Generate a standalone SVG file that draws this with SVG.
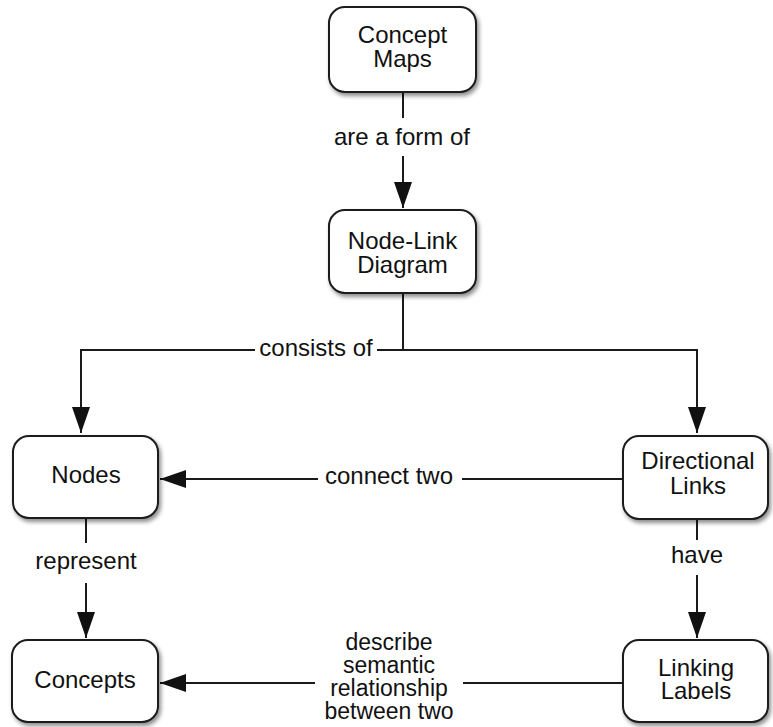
<svg xmlns="http://www.w3.org/2000/svg" width="773" height="727" viewBox="0 0 773 727">
  <defs>
    <filter id="shadow" x="-10%" y="-10%" width="125%" height="130%">
      <feDropShadow dx="2" dy="3" stdDeviation="2" flood-color="#000" flood-opacity="0.45"/>
    </filter>
    <marker id="arrow" markerUnits="userSpaceOnUse" markerWidth="26" markerHeight="18" refX="26" refY="9" orient="auto">
      <path d="M0,0 L26,9 L0,18 Z" fill="#111"/>
    </marker>
    <style>
      .box { fill: #fff; stroke: #1a1a1a; stroke-width: 2; filter: url(#shadow); }
      .txt { font-family: "Liberation Sans", Arial, sans-serif; font-size: 24px; fill: #111; text-anchor: middle; }
      .small { font-size: 23px; }
      .line { fill: none; stroke: #1a1a1a; stroke-width: 2; }
    </style>
  </defs>
  <rect width="773" height="727" fill="#fff"/>

  <g id="connectors">
    <!-- Concept Maps -> Node-Link Diagram -->
    <line class="line" x1="403" y1="92" x2="403" y2="118"/>
    <line class="line" x1="403" y1="156" x2="403" y2="208" marker-end="url(#arrow)"/>
    <text class="txt" x="402" y="145">are a form of</text>

    <!-- Node-Link Diagram -> Nodes / Directional Links -->
    <line class="line" x1="403" y1="293" x2="403" y2="350"/>
    <polyline class="line" points="255,350 81,350 81,433" marker-end="url(#arrow)"/>
    <polyline class="line" points="377,350 697,350 697,433" marker-end="url(#arrow)"/>
    <text class="txt" x="316" y="356">consists of</text>

    <!-- Directional Links -> Nodes -->
    <line class="line" x1="623" y1="479" x2="462" y2="479"/>
    <line class="line" x1="318" y1="479" x2="160" y2="479" marker-end="url(#arrow)"/>
    <text class="txt" x="389" y="484">connect two</text>

    <!-- Nodes -> Concepts -->
    <line class="line" x1="86" y1="518" x2="86" y2="543"/>
    <line class="line" x1="86" y1="583" x2="86" y2="638" marker-end="url(#arrow)"/>
    <text class="txt" x="86" y="569">represent</text>

    <!-- Directional Links -> Linking Labels -->
    <line class="line" x1="697" y1="520" x2="697" y2="540"/>
    <line class="line" x1="697" y1="575" x2="697" y2="638" marker-end="url(#arrow)"/>
    <text class="txt" x="697" y="563">have</text>

    <!-- Linking Labels -> Concepts -->
    <line class="line" x1="623" y1="683" x2="463" y2="683"/>
    <line class="line" x1="315" y1="683" x2="160" y2="683" marker-end="url(#arrow)"/>
    <text class="txt small" x="389" y="650">describe</text>
    <text class="txt small" x="389" y="673">semantic</text>
    <text class="txt small" x="389" y="696">relationship</text>
    <text class="txt small" x="389" y="719">between two</text>
  </g>

  <g id="concept-maps">
    <rect class="box" x="329" y="7" width="147" height="85" rx="16"/>
    <text class="txt" x="402.5" y="43">Concept</text>
    <text class="txt" x="402.5" y="67">Maps</text>
  </g>

  <g id="node-link-diagram">
    <rect class="box" x="329" y="210" width="147" height="83" rx="16"/>
    <text class="txt" x="402.5" y="249">Node-Link</text>
    <text class="txt" x="402.5" y="273">Diagram</text>
  </g>

  <g id="nodes">
    <rect class="box" x="13" y="436" width="145" height="82" rx="16"/>
    <text class="txt" x="86" y="483">Nodes</text>
  </g>

  <g id="directional-links">
    <rect class="box" x="623" y="436" width="145" height="83" rx="16"/>
    <text class="txt" x="698" y="469">Directional</text>
    <text class="txt" x="698" y="494">Links</text>
  </g>

  <g id="concepts">
    <rect class="box" x="12" y="640" width="146" height="82" rx="16"/>
    <text class="txt" x="85" y="688">Concepts</text>
  </g>

  <g id="linking-labels">
    <rect class="box" x="623" y="640" width="145" height="82" rx="16"/>
    <text class="txt" x="696" y="676">Linking</text>
    <text class="txt" x="696" y="699">Labels</text>
  </g>
</svg>
